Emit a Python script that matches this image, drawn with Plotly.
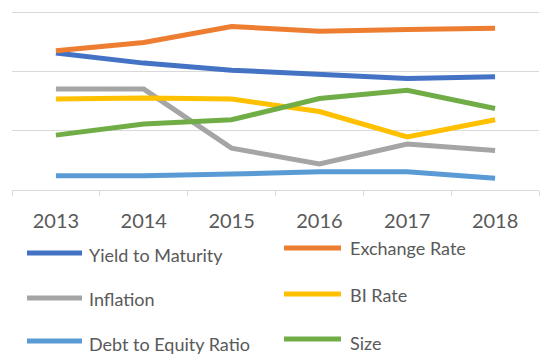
import plotly.graph_objects as go

years = ["2013", "2014", "2015", "2016", "2017", "2018"]
series_names = ["Yield to Maturity", "Exchange Rate", "Inflation", "BI Rate",
                "Debt to Equity Ratio", "Size"]
yield_to_maturity = [2.32, 2.15, 2.03, 1.95, 1.89, 1.92]
exchange_rate = [2.36, 2.50, 2.77, 2.69, 2.72, 2.74]
inflation = [1.71, 1.71, 0.71, 0.44, 0.78, 0.67]
bi_rate = [1.54, 1.56, 1.54, 1.33, 0.90, 1.19]
debt_to_equity = [0.24, 0.24, 0.27, 0.31, 0.31, 0.20]
size = [0.93, 1.12, 1.19, 1.55, 1.69, 1.38]

values = [yield_to_maturity, exchange_rate, inflation, bi_rate, debt_to_equity, size]
colors = ["#4472C4", "#ED7D31", "#A5A5A5", "#FFC000", "#5B9BD5", "#70AD47"]

W, H = 542, 356
L, R, T, B = 12, 3, 10, 166
YMAX = 3.05
FONT = "Lato, 'Liberation Sans', sans-serif"
TXT = "#595959"
GRID = "#d9d9d9"

fig = go.Figure()
for name, vals, col in zip(series_names, values, colors):
    fig.add_trace(go.Scatter(x=years, y=vals, name=name, mode="lines",
                             line=dict(color=col, width=5), showlegend=False))

# custom legend (two columns, three rows)
pw, ph = W - L - R, H - T - B
def px2x(px):
    return (px - L) / pw
def px2y(py):
    return (H - B - py) / ph

col_line_x = [(27, 82), (284, 341)]
col_text_x = [87, 348]
row_line_y = [[253, 298, 341], [248, 294, 339]]
row_text_y = [[255, 299, 344], [248, 295, 343]]

for i, (name, col) in enumerate(zip(series_names, colors)):
    c, r = i % 2, i // 2
    x0, x1 = col_line_x[c]
    ly = row_line_y[c][r]
    fig.add_shape(type="line", xref="paper", yref="paper",
                  x0=px2x(x0), x1=px2x(x1), y0=px2y(ly), y1=px2y(ly),
                  line=dict(color=col, width=5))
    fig.add_annotation(text=name, xref="paper", yref="paper",
                       x=px2x(col_text_x[c]), y=px2y(row_text_y[c][r]),
                       xanchor="left", yanchor="middle", showarrow=False,
                       font=dict(family=FONT, size=18, color=TXT))

fig.update_layout(
    width=W, height=H,
    margin=dict(l=L, r=R, t=T, b=B),
    paper_bgcolor="white", plot_bgcolor="white",
    font=dict(family=FONT, color=TXT),
)
fig.update_xaxes(type="category", tickson="boundaries", ticks="outside",
                 ticklen=5, tickcolor=GRID, showline=True, linecolor=GRID,
                 linewidth=1, showgrid=False, range=[-0.5, 5.5],
                 tickfont=dict(family=FONT, size=20, color=TXT),
                 ticklabelstandoff=13)
fig.update_yaxes(range=[0, YMAX], dtick=1, showticklabels=False,
                 showgrid=True, gridcolor=GRID, gridwidth=1,
                 zeroline=False, showline=False)

fig.write_html("out.html")
